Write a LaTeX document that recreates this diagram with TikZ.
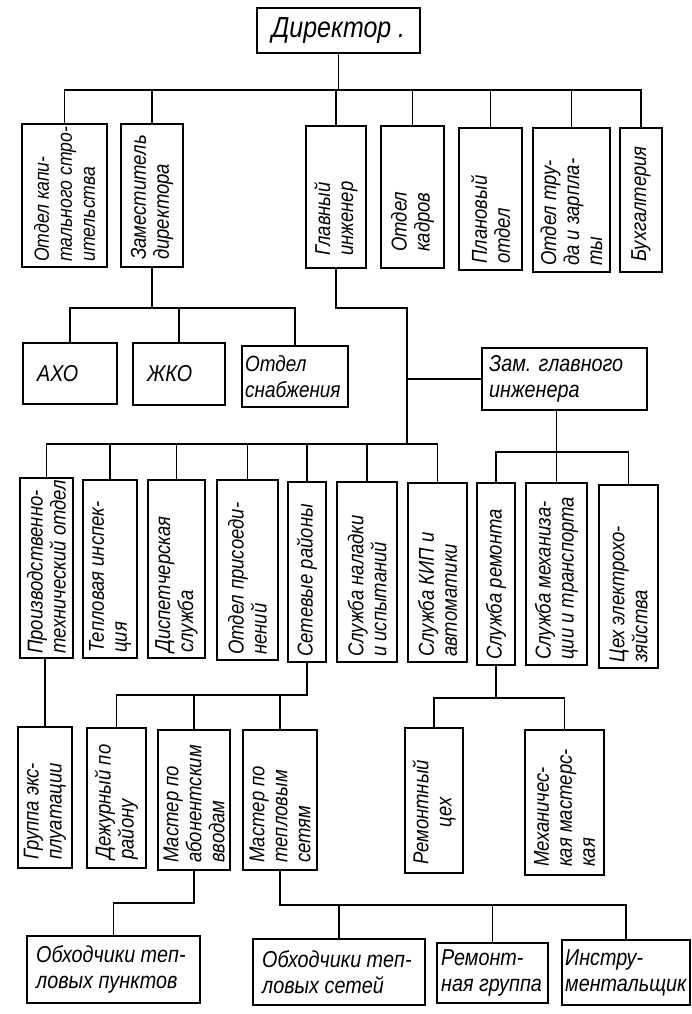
\documentclass[tikz,border=0pt]{standalone}
\usepackage{fontspec}
\setmainfont{Liberation Sans}[FakeStretch=0.86]
\usetikzlibrary{calc}
\tikzset{
  box/.style={draw, line width=1.6pt, inner sep=0pt, outer sep=0pt},
  vtext/.style={rotate=90, anchor=west, align=left, font=\itshape\fontsize{21.5}{23}\selectfont, inner sep=0pt},
  htext/.style={anchor=west, align=left, font=\itshape\fontsize{23}{26}\selectfont, inner sep=0pt},
  wire/.style={line width=1.6pt},
}
\newcommand\mkbox[5]{\node[box, minimum width={(#4-#2)*1pt}, minimum height={(#5-#3)*1pt}] (#1) at ({(#2+#4)/2},{(#3+#5)/2}) {};}
\begin{document}
\begin{tikzpicture}[x=1pt,y=-1pt]
\useasboundingbox (0,0) rectangle (691,1014);
% boxes
\mkbox{dir}{257}{8}{420}{53}
\mkbox{ks}{22}{124}{107}{267}
\mkbox{zd}{121}{124}{183}{267}
\mkbox{gi}{306}{126}{366}{268}
\mkbox{ok}{381}{126}{444}{268}
\mkbox{po}{459}{128}{522}{270}
\mkbox{ot}{533}{128}{610}{272}
\mkbox{bu}{620}{128}{662}{272}
\mkbox{axo}{23}{343}{117}{404}
\mkbox{jko}{133}{343}{225}{405}
\mkbox{osn}{242}{346}{348}{407}
\mkbox{zgi}{482}{348}{647}{410}
\mkbox{pto}{20}{478}{73}{658}
\mkbox{ti}{83}{480}{137}{658}
\mkbox{ds}{148}{480}{205}{658}
\mkbox{op}{217}{480}{278}{660}
\mkbox{sr}{288}{482}{326}{662}
\mkbox{sn}{337}{482}{397}{662}
\mkbox{kip}{408}{483}{467}{662}
\mkbox{srem}{477}{483}{515}{665}
\mkbox{sm}{526}{483}{587}{665}
\mkbox{ce}{599}{485}{658}{668}
\mkbox{ge}{18}{727}{72}{868}
\mkbox{dp}{87}{728}{146}{868}
\mkbox{ma}{158}{730}{230}{870}
\mkbox{mt}{243}{730}{317}{870}
\mkbox{rc}{405}{728}{463}{873}
\mkbox{mm}{525}{730}{604}{875}
\mkbox{op1}{27}{936}{200}{1003}
\mkbox{os}{253}{939}{425}{1005}
\mkbox{rg}{437}{943}{548}{1003}
\mkbox{ins}{562}{940}{690}{1005}
% texts
\node[font=\itshape\fontsize{29}{32}\selectfont, inner sep=0pt] (tdir) at (dir) {Директор .};
\node[vtext, font=\itshape\fontsize{20.5}{23}\selectfont] (tks) at ([yshift=5pt]ks.south) {Отдел капи-\\тального стро-\\ительства};
\node[vtext] (tzd) at ([yshift=7pt]zd.south) {Заместитель\\директора};
\node[vtext] (tgi) at ([yshift=12pt]gi.south) {Главный\\инженер};
\node[vtext] (tok) at ([yshift=16pt]ok.south) {Отдел\\кадров};
\node[vtext] (tpo) at ([yshift=6pt]po.south) {Плановый\\отдел};
\node[vtext] (tot) at ([yshift=6pt]ot.south) {Отдел тру-\\да и зарпла-\\ты};
\node[vtext] (tbu) at ([yshift=10pt]bu.south) {Бухгалтерия};
\node[htext] (taxo) at ([xshift=14pt]axo.west) {АХО};
\node[htext] (tjko) at ([xshift=14pt]jko.west) {ЖКО};
\node[htext, font=\itshape\fontsize{22}{26}\selectfont] (tosn) at ([xshift=3pt]osn.west) {Отдел\\снабжения};
\node[htext] (tzgi) at ([xshift=7pt]zgi.west) {Зам. главного\\инженера};
\node[vtext] (tpto) at ([yshift=4pt]pto.south) {Производственно-\\технический отдел};
\node[vtext] (tti) at ([yshift=5pt]ti.south) {Тепловая инспек-\\ция};
\node[vtext] (tds) at ([yshift=5pt]ds.south) {Диспетчерская\\служба};
\node[vtext] (top) at ([yshift=5pt]op.south) {Отдел присоеди-\\нений};
\node[vtext] (tsr) at ([yshift=5pt]sr.south) {Сетевые районы};
\node[vtext] (tsn) at ([yshift=5pt]sn.south) {Служба наладки\\и испытаний};
\node[vtext] (tkip) at ([yshift=5pt]kip.south) {Служба КИП и\\автоматики};
\node[vtext] (tsrem) at ([yshift=5pt]srem.south) {Служба ремонта};
\node[vtext] (tsm) at ([yshift=5pt]sm.south) {Служба механиза-\\ции и транспорта};
\node[vtext] (tce) at ([yshift=5pt]ce.south) {Цех электрохо-\\зяйства};
\node[vtext] (tge) at ([yshift=8pt]ge.south) {Группа экс-\\плуатации};
\node[vtext] (tdp) at ([yshift=8pt]dp.south) {Дежурный по\\району};
\node[vtext] (tma) at ([yshift=7pt]ma.south) {Мастер по\\абонентским\\вводам};
\node[vtext] (tmt) at ([yshift=7pt]mt.south) {Мастер по\\тепловым\\сетям};
\node[vtext, align=center] (trc) at ([yshift=8pt]rc.south) {Ремонтный\\цех};
\node[vtext] (tmm) at ([yshift=8pt]mm.south) {Механичес-\\кая мастерс-\\кая};
\node[htext] (top1) at ([xshift=9pt]op1.west) {Обходчики теп-\\ловых пунктов};
\node[htext] (tos) at ([xshift=9pt]os.west) {Обходчики теп-\\ловых сетей};
\node[htext] (trg) at ([xshift=4pt]rg.west) {Ремонт-\\ная группа};
\node[htext] (tins) at ([xshift=3pt]ins.west) {Инстру-\\ментальщик};
% connectors
\coordinate (b1) at (0,90);
\draw[wire] (dir.south) -- (dir.south |- b1);
\draw[wire] (ks.north) -- (ks.north |- b1) -- (bu.north |- b1) -- (bu.north);
\foreach \n in {zd,gi,ok,po,ot} \draw[wire] (\n.north) -- (\n.north |- b1);
\coordinate (b2) at (0,308);
\draw[wire] (zd.south) -- (zd.south |- b2);
\draw[wire] (axo.north) -- (axo.north |- b2) -- (osn.north |- b2) -- (osn.north);
\draw[wire] (jko.north) -- (jko.north |- b2);
\coordinate (g1) at (407,308);
\coordinate (b3) at (0,444);
\draw[wire] (gi.south) -- (gi.south |- g1) -- (g1) -- (g1 |- b3);
\draw[wire] (g1 |- zgi.west) -- (zgi.west);
\draw[wire] (pto.north) -- (pto.north |- b3) -- (kip.north |- b3) -- (kip.north);
\foreach \n in {ti,ds,op,sr,sn} \draw[wire] (\n.north) -- (\n.north |- b3);
\coordinate (b4) at (0,452);
\draw[wire] (zgi.south -| sm.north) -- (sm.north);
\draw[wire] (srem.north) -- (srem.north |- b4) -- (ce.north |- b4) -- (ce.north);
\draw[wire] (pto.south -| ge.north) -- (ge.north);
\coordinate (b5) at (0,695);
\draw[wire] (sr.south) -- (sr.south |- b5) -- (dp.north |- b5) -- (dp.north);
\draw[wire] (ma.north) -- (ma.north |- b5);
\draw[wire] (mt.north) -- (mt.north |- b5);
\coordinate (b6) at (0,903);
\draw[wire] (ma.south) -- (ma.south |- b6) -- (op1.north |- b6) -- (op1.north);
\coordinate (b7) at (0,905);
\draw[wire] (mt.south) -- (mt.south |- b7) -- (ins.north |- b7) -- (ins.north);
\draw[wire] (os.north) -- (os.north |- b7);
\draw[wire] (rg.north) -- (rg.north |- b7);
\coordinate (b8) at (0,698);
\draw[wire] (srem.south) -- (srem.south |- b8);
\draw[wire] (rc.north) -- (rc.north |- b8) -- (mm.north |- b8) -- (mm.north);
\end{tikzpicture}
\end{document}
